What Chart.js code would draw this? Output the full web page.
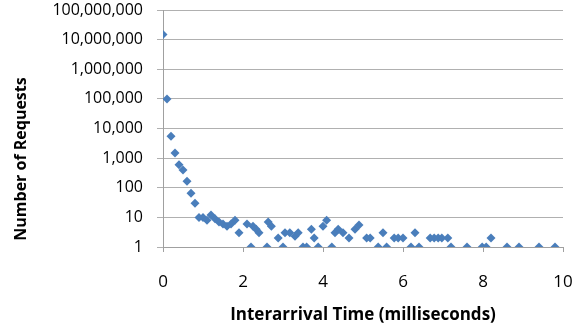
<!DOCTYPE html>
<html>
<head>
<meta charset="utf-8">
<script src="https://cdn.jsdelivr.net/npm/chart.js@4/dist/chart.umd.min.js"></script>
<style>
html,body{margin:0;padding:0;background:#fff;}
#wrap{width:587px;height:330px;position:relative;}
</style>
</head>
<body>
<div id="wrap"><canvas id="c" width="587" height="330"></canvas></div>
<script>
// Interarrival time (ms) and number of requests
const xValues = [0,0.1,0.2,0.3,0.4,0.5,0.6,0.7,0.8,0.9,1.0,1.1,1.2,1.3,1.4,1.5,1.6,1.7,1.8,1.9,2.1,2.2,2.25,2.33,2.4,2.6,2.63,2.71,2.88,3.0,3.05,3.17,3.3,3.38,3.5,3.59,3.71,3.78,3.88,4.0,4.09,4.22,4.3,4.38,4.5,4.65,4.8,4.9,5.09,5.18,5.38,5.5,5.59,5.78,5.88,6.0,6.2,6.3,6.4,6.68,6.78,6.88,6.97,7.12,7.2,7.6,7.98,8.08,8.2,8.6,8.9,9.4,9.8];
const requests = [15000000,100000,5500,1500,600,400,165,65,30,10,10,8,12,9,7,6,5,6,8,3,6,1,5,4,3,1,7,5,2,1,3,3,2.3,3,1,1,4,2,1,5,8,1,3,4,3,2,4,5.5,2,2,1,3,1,2,2,2,1,3,1,2,2,2,2,2,1,1,1,1,2,1,1,1,1];
const yTickValues = [1,10,100,1000,10000,100000,1000000,10000000,100000000];
const yTickLabels = ['1','10','100','1,000','10,000','100,000','1,000,000','10,000,000','100,000,000'];
const xTickValues = [0,2,4,6,8,10];
const xTitle = 'Interarrival Time (milliseconds)';
const yTitle = 'Number of Requests';

const points = xValues.map((x,i)=>({x:x,y:requests[i]}));
const FONT = "'Open Sans', 'DejaVu Sans', sans-serif";

const titlesPlugin = {
  id:'titles',
  afterDraw(chart){
    const ctx = chart.ctx;
    const a = chart.chartArea;
    ctx.save();
    ctx.fillStyle = '#000';
    ctx.textAlign = 'center';
    ctx.textBaseline = 'middle';
    ctx.font = "bold 17px " + FONT;
    ctx.fillText(xTitle, (a.left + a.right)/2, 315);
    ctx.font = "bold 16px " + FONT;
    ctx.translate(21, 159);
    ctx.rotate(-Math.PI/2);
    ctx.fillText(yTitle, 0, 0);
    ctx.restore();
  }
};

new Chart(document.getElementById('c'), {
  type:'scatter',
  data:{datasets:[{
    data:points,
    pointStyle:'rectRot',
    pointRadius:4.5,
    pointHoverRadius:4.5,
    backgroundColor:'#4a7ebb',
    borderColor:'#4a7ebb',
    borderWidth:0
  }]},
  options:{
    responsive:false,
    animation:false,
    events:[],
    layout:{padding:{left:0,right:24,top:10,bottom:0}},
    plugins:{legend:{display:false},tooltip:{enabled:false}},
    scales:{
      x:{
        type:'linear', min:0, max:10,
        afterBuildTicks(s){ s.ticks = xTickValues.map(v=>({value:v})); },
        afterFit(s){ s.height = 83; s.paddingLeft = 0; s.paddingRight = 0; },
        grid:{drawOnChartArea:false, drawTicks:true, tickLength:5, color:'#a0a0a0'},
        border:{display:true, color:'#a0a0a0', width:1},
        ticks:{padding:20, color:'#000', font:{family:FONT, size:17}, maxRotation:0}
      },
      y:{
        type:'logarithmic', min:1, max:100000000,
        afterBuildTicks(s){ s.ticks = yTickValues.map(v=>({value:v})); },
        afterFit(s){ s.width = 163; s.paddingTop = 0; s.paddingBottom = 0; },
        grid:{drawOnChartArea:true, drawTicks:true, tickLength:6, color:'#b0b0b0'},
        border:{display:true, color:'#a0a0a0', width:1},
        ticks:{padding:14, color:'#000', font:{family:FONT, size:16},
          callback(v){ const i = yTickValues.indexOf(v); return i>=0 ? yTickLabels[i] : ''; }}
      }
    }
  },
  plugins:[titlesPlugin]
});
</script>
</body>
</html>
